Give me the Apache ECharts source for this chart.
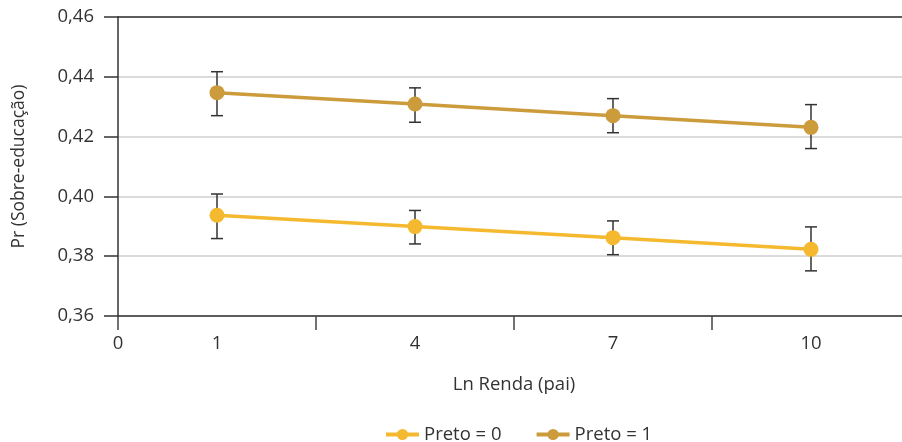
<!DOCTYPE html>
<html>
<head>
<meta charset="utf-8">
<title>Pr (Sobre-educação)</title>
<style>
  html, body { margin: 0; padding: 0; background: #fff; }
  #main { width: 902px; height: 442px; }
</style>
</head>
<body>
<div id="main"></div>
<script src="https://cdn.jsdelivr.net/npm/echarts@6/dist/echarts.min.js"></script>
<script>
// categorias do eixo x (Ln Renda do pai)
var categorias = ['1', '4', '7', '10'];

// Preto = 0
var preto0 = [0.3937, 0.3899, 0.3862, 0.3823];
var preto0Min = [0.3859, 0.3841, 0.3805, 0.3751];
var preto0Max = [0.4008, 0.3953, 0.3918, 0.3898];

// Preto = 1
var preto1 = [0.4347, 0.4309, 0.4270, 0.4231];
var preto1Min = [0.4270, 0.4248, 0.4213, 0.4160];
var preto1Max = [0.4417, 0.4363, 0.4327, 0.4307];

var corPreto0 = '#f4b92e';
var corPreto1 = '#cc9b3b';
var corTexto = '#333';
var fonte = '"Open Sans", "Noto Sans", sans-serif';
var tam = 18.5;

function barras(mins, maxs) {
  return categorias.map(function (c, i) { return [i, mins[i], maxs[i]]; });
}

function desenhaBarra(params, api) {
  var x = api.value(0);
  var baixo = api.coord([x, api.value(1)]);
  var alto = api.coord([x, api.value(2)]);
  var meia = 6;
  var estilo = { stroke: '#333', lineWidth: 1.5 };
  return {
    type: 'group',
    children: [
      { type: 'line', shape: { x1: alto[0], y1: alto[1], x2: baixo[0], y2: baixo[1] }, style: estilo },
      { type: 'line', shape: { x1: alto[0] - meia, y1: alto[1], x2: alto[0] + meia, y2: alto[1] }, style: estilo },
      { type: 'line', shape: { x1: baixo[0] - meia, y1: baixo[1], x2: baixo[0] + meia, y2: baixo[1] }, style: estilo }
    ]
  };
}

var myChart = echarts.init(document.getElementById('main'));

myChart.setOption({
  backgroundColor: '#fff',
  animation: false,
  textStyle: { fontFamily: fonte },
  grid: { left: 118, top: 17, width: 792, height: 299, outerBoundsMode: 'none', containLabel: false },
  legend: {
    top: 420,
    left: 379,
    itemWidth: 33,
    itemHeight: 14,
    itemGap: 33,
    lineStyle: { width: 4 },
    textStyle: { fontSize: tam, color: corTexto, fontFamily: fonte },
    data: ['Preto = 0', 'Preto = 1']
  },
  xAxis: [
    {
      type: 'category',
      data: categorias,
      boundaryGap: true,
      position: 'bottom',
      name: 'Ln Renda (pai)',
      nameLocation: 'middle',
      nameGap: 59,
      nameTextStyle: { fontSize: tam, color: corTexto, fontFamily: fonte },
      axisLine: { lineStyle: { color: '#333', width: 1.5 } },
      axisTick: { show: true, length: 14, alignWithLabel: false, lineStyle: { color: '#444', width: 1.5 } },
      axisLabel: { fontSize: tam, color: corTexto, margin: 18, fontFamily: fonte },
      splitLine: { show: false }
    },
    {
      // rótulo "0" na origem
      type: 'value',
      min: 0,
      max: 4,
      interval: 1,
      position: 'bottom',
      axisLine: { show: false },
      axisTick: { show: false },
      splitLine: { show: false },
      axisLabel: {
        fontSize: tam, color: corTexto, margin: 18, fontFamily: fonte,
        formatter: function (v) { return v === 0 ? '0' : ''; }
      }
    },
    {
      // linha superior
      type: 'value',
      min: 0,
      max: 4,
      position: 'top',
      axisLine: { show: true, lineStyle: { color: '#333', width: 1.5 } },
      axisTick: { show: false },
      axisLabel: { show: false },
      splitLine: { show: false }
    }
  ],
  yAxis: {
    type: 'value',
    min: 0.36,
    max: 0.46,
    interval: 0.02,
    name: 'Pr (Sobre-educação)',
    nameLocation: 'middle',
    nameGap: 90,
    nameTextStyle: { fontSize: 17.5, color: corTexto, fontFamily: fonte },
    axisLine: { show: true, lineStyle: { color: '#333', width: 1.5 } },
    axisTick: { show: true, inside: false, length: 14, lineStyle: { color: '#333', width: 1.5 } },
    axisLabel: {
      fontSize: tam, color: corTexto, margin: 24, fontFamily: fonte,
      formatter: function (v) { return v.toFixed(2).replace('.', ','); }
    },
    splitLine: { show: true, lineStyle: { color: '#cfcfcf', width: 1.5 } }
  },
  series: [
    {
      name: 'Preto = 0',
      type: 'line',
      data: preto0,
      symbol: 'circle',
      symbolSize: 15,
      z: 3,
      itemStyle: { color: corPreto0 },
      lineStyle: { color: corPreto0, width: 3.5 }
    },
    {
      name: 'Preto = 1',
      type: 'line',
      data: preto1,
      symbol: 'circle',
      symbolSize: 15,
      z: 3,
      itemStyle: { color: corPreto1 },
      lineStyle: { color: corPreto1, width: 3.5 }
    },
    {
      name: 'erro0',
      type: 'custom',
      renderItem: desenhaBarra,
      data: barras(preto0Min, preto0Max),
      encode: { x: 0, y: [1, 2] },
      z: 2
    },
    {
      name: 'erro1',
      type: 'custom',
      renderItem: desenhaBarra,
      data: barras(preto1Min, preto1Max),
      encode: { x: 0, y: [1, 2] },
      z: 2
    }
  ]
});
</script>
</body>
</html>
